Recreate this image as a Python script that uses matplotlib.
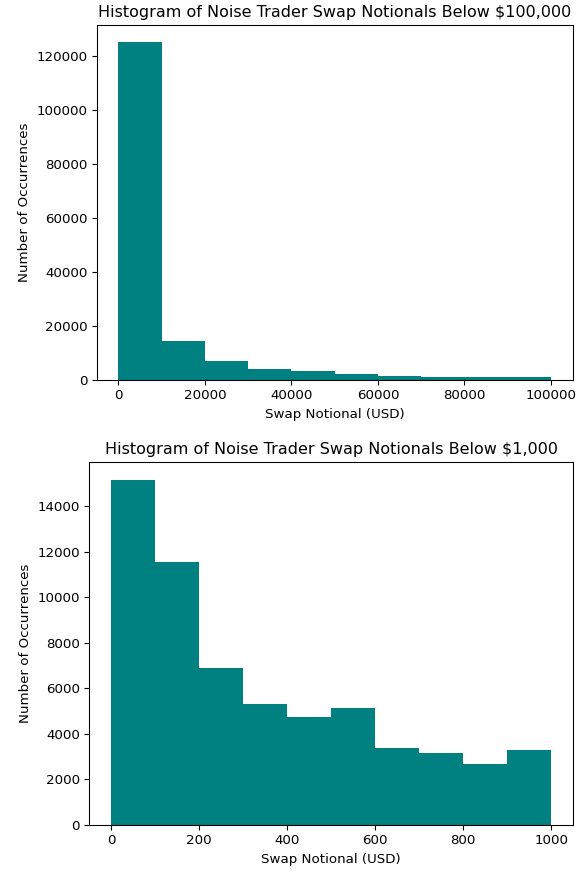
import numpy as np
import matplotlib
matplotlib.use("Agg")
import matplotlib.pyplot as plt

# Bin edges and counts
big_edges = np.linspace(0, 100000, 11)
big_counts = [125200, 14300, 7150, 3950, 3330, 2220, 1370, 1300, 1000, 950]

small_edges = np.linspace(0, 1000, 11)
small_counts = [15160, 11520, 6910, 5300, 4750, 5130, 3360, 3145, 2675, 3275]

DPI = 96
fig = plt.figure(figsize=(584 / DPI, 872 / DPI), dpi=DPI)

ax1 = fig.add_axes([0.1656, 0.5642, 0.815, 0.4071])
ax1.hist(big_edges[:-1], bins=big_edges, weights=big_counts, color="teal")
ax1.set_title("Histogram of Noise Trader Swap Notionals Below $100,000")
ax1.set_xlabel("Swap Notional (USD)")
ax1.set_ylabel("Number of Occurrences")

ax2 = fig.add_axes([0.1529, 0.0539, 0.8288, 0.416])
ax2.hist(small_edges[:-1], bins=small_edges, weights=small_counts, color="teal")
ax2.set_title("Histogram of Noise Trader Swap Notionals Below $1,000")
ax2.set_xlabel("Swap Notional (USD)")
ax2.set_ylabel("Number of Occurrences")

fig.savefig("out.png", dpi=DPI)
